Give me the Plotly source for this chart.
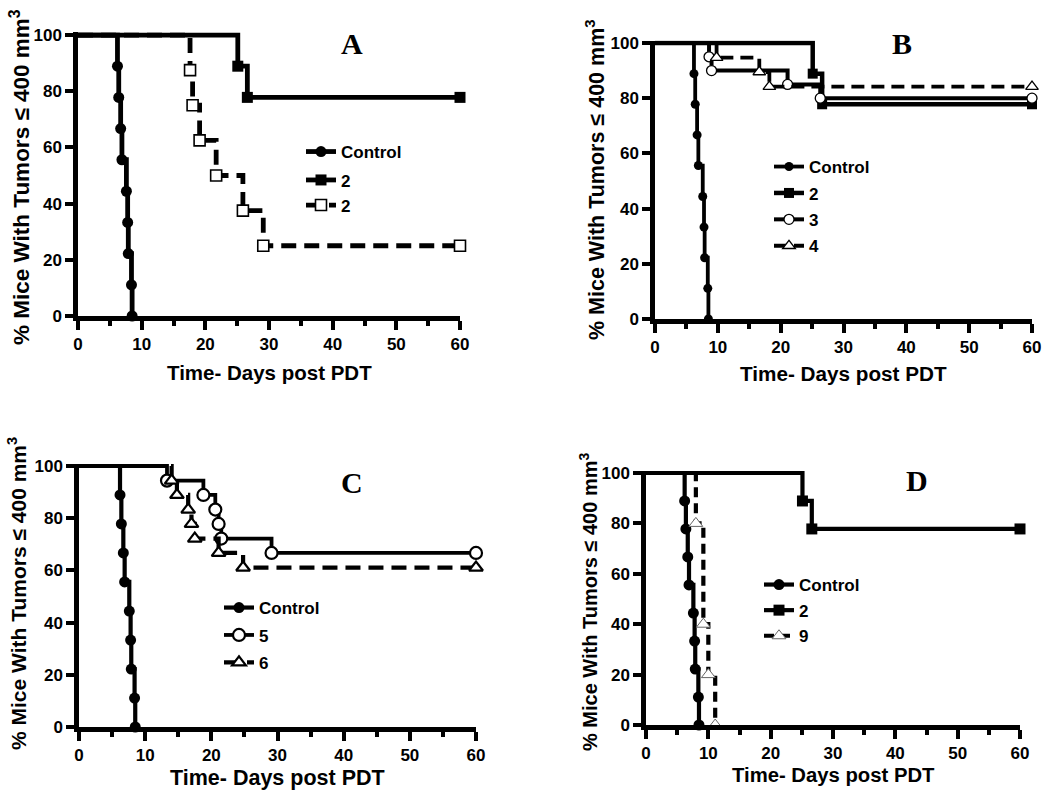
import plotly.graph_objects as go

# ---------------- data (days post PDT, % mice with tumors <= 400 mm3) ----------------
ctrl_days = [0, 6.2, 6.4, 6.7, 6.9, 7.6, 7.8, 7.9, 8.4, 8.5]
ctrl_pct = [100, 88.9, 77.8, 66.7, 55.6, 44.4, 33.3, 22.2, 11.1, 0]

g2_days = [0, 25.1, 26.6, 60]
g2_pct = [100, 88.9, 77.8, 77.8]

a_g2open_days = [0, 17.6, 18.0, 19.1, 21.7, 25.9, 29.1, 60]
a_g2open_pct = [100, 87.5, 75, 62.5, 50, 37.5, 25, 25]

b_g3_days = [0, 8.6, 9.0, 21.1, 26.3, 60]
b_g3_pct = [100, 95, 90, 85, 80, 80]

b_g4_days = [0, 9.8, 16.6, 18.2, 60]
b_g4_pct = [100, 94.7, 89.5, 84.2, 84.2]

c_g5_days = [0, 13.3, 18.8, 20.6, 21.1, 21.5, 29.1, 60]
c_g5_pct = [100, 94.4, 88.9, 83.3, 77.8, 72.2, 66.7, 66.7]

c_g6_days = [0, 14.0, 14.8, 16.5, 17.0, 17.5, 21.1, 24.8, 60]
c_g6_pct = [100, 94.4, 88.9, 83.3, 77.8, 72.2, 66.7, 61.1, 61.1]

d_g9_days = [0, 8.0, 9.2, 10.0, 11.1]
d_g9_pct = [100, 80, 40, 20, 0]

x_ticks = [0, 10, 20, 30, 40, 50, 60]
y_ticks = [0, 20, 40, 60, 80, 100]
panel_letters = ["A", "B", "C", "D"]
x_title = "Time- Days post PDT"
y_title = "% Mice With Tumors \u2264 400 mm<sup>3</sup>"

FONT = "Arial, Liberation Sans, sans-serif"
W, H = 1050, 790

fig = go.Figure()


def add_curve(days, pct, name, sub, legend, symbol, msize, lw, dash="solid",
              fill="black", mline="black", mlw=0):
    xa = "x" if sub == 1 else f"x{sub}"
    ya = "y" if sub == 1 else f"y{sub}"
    fig.add_trace(go.Scatter(
        x=days, y=pct, name=name, mode="lines+markers",
        line=dict(shape="hv", color="black", width=lw, dash=dash),
        marker=dict(symbol=symbol, size=msize, color=fill,
                    line=dict(color=mline, width=mlw)),
        selectedpoints=list(range(1, len(days))),
        selected=dict(marker=dict(opacity=1)),
        unselected=dict(marker=dict(opacity=0)),
        cliponaxis=False, xaxis=xa, yaxis=ya, legend=legend,
        legendgroup=f"{sub}-{name}-{symbol}",
        hoverinfo="skip",
    ))


# Panel A
add_curve(ctrl_days, ctrl_pct, "Control", 1, "legend", "circle", 11, 4.8)
add_curve(g2_days, g2_pct, "2", 1, "legend", "square", 11, 4.8)
add_curve(a_g2open_days, a_g2open_pct, "2", 1, "legend", "square", 11, 4.8,
          dash="15px,8px", fill="white", mlw=1.6)

# Panel B
add_curve(ctrl_days, ctrl_pct, "Control", 2, "legend2", "circle", 9, 3.8)
add_curve(g2_days, g2_pct, "2", 2, "legend2", "square", 10, 4.5)
add_curve(b_g3_days, b_g3_pct, "3", 2, "legend2", "circle", 10, 4,
          fill="white", mlw=1.3)
add_curve(b_g4_days, b_g4_pct, "4", 2, "legend2", "triangle-up", 11, 3.8,
          dash="13px,7px", fill="white", mlw=1.3)

# Panel C
add_curve(ctrl_days, ctrl_pct, "Control", 3, "legend3", "circle", 11, 4.2)
add_curve(c_g5_days, c_g5_pct, "5", 3, "legend3", "circle", 12, 3.8,
          fill="white", mlw=2.2)
add_curve(c_g6_days, c_g6_pct, "6", 3, "legend3", "triangle-up", 12, 4.2,
          dash="15px,8px", fill="white", mlw=2.2)

# Panel D
add_curve(ctrl_days, ctrl_pct, "Control", 4, "legend4", "circle", 11, 4.2)
add_curve(g2_days, g2_pct, "2", 4, "legend4", "square", 11, 4.2)
add_curve(d_g9_days, d_g9_pct, "9", 4, "legend4", "triangle-up", 12, 4.2,
          dash="10px,6px", fill="white", mline="#666666", mlw=1)

# pixel positions of x=0, x=60, y=0, y=100 for each panel
px_frames = {
    1: (78, 460, 316, 35),
    2: (655, 1032, 319, 43),
    3: (79, 476, 727, 466),
    4: (646, 1020, 725, 473),
}
Y_TOP = 100.9

tickfont = dict(family=FONT, size=17, color="black", weight="bold")
for sub, (x0, x60, y0, y100) in px_frames.items():
    sfx = "" if sub == 1 else str(sub)
    ytop_px = y100 - (Y_TOP - 100) * (y0 - y100) / 100
    fig.update_layout(**{
        f"xaxis{sfx}": dict(
            domain=[x0 / W, x60 / W], range=[0, 60], tickvals=x_ticks,
            anchor=f"y{sfx}", automargin=False,
            showline=True, linewidth=4.5, linecolor="black",
            ticks="outside", ticklen=9, tickwidth=3.5, tickcolor="black",
            minor=dict(ticks="outside", ticklen=5, tickwidth=3.5, dtick=5,
                       tick0=0, tickcolor="black", showgrid=False),
            showgrid=False, zeroline=False, tickfont=tickfont,
        ),
        f"yaxis{sfx}": dict(
            domain=[1 - y0 / H, 1 - ytop_px / H], range=[0, Y_TOP],
            tickvals=y_ticks, anchor=f"x{sfx}", automargin=False,
            showline=True, linewidth=4.5, linecolor="black",
            ticks="outside", ticklen=8, tickwidth=3.5, tickcolor="black",
            showgrid=False, zeroline=False, tickfont=tickfont,
        ),
    })

# legends: (left px, top px, group gap)
leg_specs = {
    "legend": (301, 134, 3.3),
    "legend2": (769, 149, 1.3),
    "legend3": (219, 590, 2.3),
    "legend4": (759, 567, 0.5),
}
for key, (px, py, gap) in leg_specs.items():
    fig.update_layout(**{key: dict(
        x=px / W, y=1 - py / H, xanchor="left", yanchor="top",
        bgcolor="rgba(0,0,0,0)", borderwidth=0, itemwidth=30,
        tracegroupgap=gap, traceorder="grouped",
        font=dict(family=FONT, size=17, color="black", weight="bold"),
    )})

# titles & panel letters
ann = []
ytitle_pos = [(20, 177, 22.5), (595, 180, 21.5), (17, 594, 21), (588, 602, 20)]
xtitle_pos = [(269, 372, 20.5), (843, 373, 20.7), (277, 778, 21.5), (833, 775, 20.3)]
letter_pos = [(352, 44), (902, 44), (352, 482), (917, 480)]
for i in range(4):
    yx, yy, ys = ytitle_pos[i]
    ann.append(dict(x=yx / W, y=1 - yy / H, xref="paper", yref="paper",
                    text=y_title, showarrow=False, textangle=-90,
                    xanchor="center", yanchor="middle",
                    font=dict(family=FONT, size=ys, color="black", weight="bold")))
    xx, xy, xs = xtitle_pos[i]
    ann.append(dict(x=xx / W, y=1 - xy / H, xref="paper", yref="paper",
                    text=x_title, showarrow=False,
                    xanchor="center", yanchor="middle",
                    font=dict(family=FONT, size=xs, color="black", weight="bold")))
    lx, ly = letter_pos[i]
    ann.append(dict(x=lx / W, y=1 - ly / H, xref="paper", yref="paper",
                    text=panel_letters[i], showarrow=False,
                    xanchor="center", yanchor="middle",
                    font=dict(family="Liberation Serif, Times New Roman, serif",
                              size=30, color="black", weight="bold")))

fig.update_layout(
    width=W, height=H,
    margin=dict(l=0, r=0, t=0, b=0, pad=0, autoexpand=False),
    paper_bgcolor="white", plot_bgcolor="white",
    annotations=ann, showlegend=True,
)

fig.write_html("out.html",
               config={"displayModeBar": False, "responsive": False},
               post_script="document.body.style.margin='0';"
                           "document.body.style.overflow='hidden';")
